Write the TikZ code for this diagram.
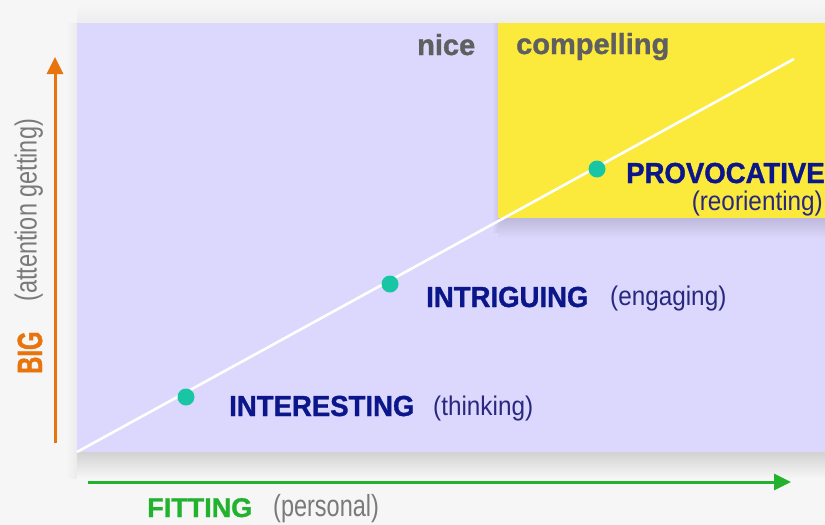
\documentclass[tikz,border=0pt]{standalone}
\usepackage{fontspec}
\setmainfont{Liberation Sans}
\newfontfamily\cbold{Liberation Sans Bold}[FakeStretch=0.95,FakeBold=1.2]
\newfontfamily\cboldw{Liberation Sans Bold}[FakeStretch=1.0,FakeBold=1.2]
\newfontfamily\cboldn{Liberation Sans Bold}[FakeStretch=0.68,FakeBold=1.2]
\newfontfamily\creg{Liberation Sans}[FakeStretch=0.9]
\newfontfamily\cregn{Liberation Sans}[FakeStretch=0.77]
\usetikzlibrary{arrows.meta}
\definecolor{bgc}{HTML}{F6F6F6}
\definecolor{lav}{HTML}{DCD7FC}
\definecolor{lavsh}{HTML}{BDB9DC}
\definecolor{gsh}{HTML}{D2D2D2}
\definecolor{yel}{HTML}{FBE93C}
\definecolor{navy}{HTML}{0B168A}
\definecolor{teal}{HTML}{18C6A6}
\definecolor{orng}{HTML}{E8740E}
\definecolor{grn}{HTML}{22B22E}
\definecolor{gtext}{HTML}{5F5F5F}
\definecolor{gparen}{HTML}{7A7A7A}
\definecolor{nparen}{HTML}{28287E}
\tikzset{
  dot/.style={circle,fill=teal,minimum size=17pt,inner sep=0pt},
  big/.style={inner sep=0pt,text=navy,font=\cbold\fontsize{29}{32}\selectfont},
  sub/.style={inner sep=0pt,text=nparen,font=\creg\fontsize{27}{30}\selectfont},
  corner/.style={inner sep=0pt,text=gtext,font=\cboldw\fontsize{29}{32}\selectfont},
  axsub/.style={inner sep=0pt,text=gparen,font=\cregn\fontsize{30.5}{34}\selectfont},
  axarrow/.style={line width=3pt,-{Triangle[length=17pt,width=16pt]}}
}
\begin{document}
\begin{tikzpicture}[x=1pt,y=-1pt]
\useasboundingbox (0,0) rectangle (825,525);
\fill[bgc] (0,0) rectangle (825,525);
% soft shadows round the lavender panel
\shade[top color=bgc,bottom color=black!7,shading angle=0] (77,4) rectangle (825,23);
\shade[left color=bgc,right color=black!8] (66,23) rectangle (77,478);
\shade[top color=gsh,bottom color=bgc] (77,452) rectangle (825,478);
\fill[lav] (77,23) rectangle (825,452);
% shadow of the yellow panel
\shade[top color=lavsh,bottom color=lav] (498,218) rectangle (825,238);
\shade[left color=lav,right color=lavsh!60!lav] (492,23) rectangle (498,232);
\fill[yel] (498,23) rectangle (825,218);
\coordinate (ls) at (77,452);
\coordinate (le) at (794,59);
\draw[white,line width=2.6pt] (ls) -- (le);
\node[dot] (d1) at (186,397) {};
\node[dot] (d2) at (390,284) {};
\node[dot] (d3) at (597,169) {};
\node[big,anchor=base west] (t1) at (229,416) {INTERESTING};
\node[sub,anchor=base west] (s1) at (433,415) {(thinking)};
\node[big,anchor=base west] (t2) at (426,307) {INTRIGUING};
\node[sub,anchor=base west] (s2) at (610,305) {(engaging)};
\node[big,anchor=base west] (t3) at (626,183) {PROVOCATIVE};
\node[sub,anchor=base east] (s3) at (823,210) {(reorienting)};
\node[corner,anchor=base west] (nice) at (417,55) {nice};
\node[corner,anchor=base west] (comp) at (516,54) {compelling};
\coordinate (ya) at (55,443);
\coordinate (yb) at (55,57);
\draw[orng,axarrow] (ya) -- (yb);
\coordinate (xa) at (88,482);
\coordinate (xb) at (791,482);
\draw[grn,axarrow] (xa) -- (xb);
\node[inner sep=0pt,text=orng,font=\cboldn\fontsize{35}{38}\selectfont,rotate=90,anchor=base west] (big) at (42,374) {BIG};
\node[axsub,rotate=90,anchor=base west] (att) at (36.5,302) {(attention getting)};
\node[inner sep=0pt,text=grn,font=\cboldw\fontsize{27}{30}\selectfont,anchor=base west] (fit) at (147,517) {FITTING};
\node[axsub,anchor=base west] (pers) at (273,516) {(personal)};
\end{tikzpicture}
\end{document}
